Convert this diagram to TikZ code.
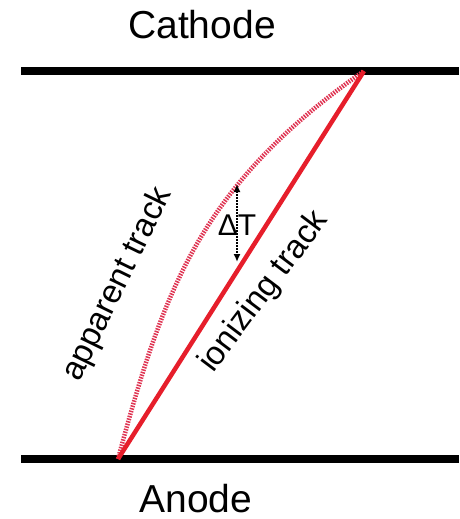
\documentclass[tikz,border=0pt]{standalone}
\usepackage{fontspec}
\setmainfont{Liberation Sans}
\usetikzlibrary{arrows.meta}
\definecolor{trackred}{HTML}{E61E2B}
\definecolor{ghostred}{HTML}{DF3452}

\begin{document}
\begin{tikzpicture}[
  x=1pt,y=-1pt,
  electrode/.style={line width=8.5pt,draw=black},
  label/.style={font=\fontsize{39}{41}\selectfont,anchor=base,inner sep=0pt},
  tracklabel/.style={font=\fontsize{33}{35}\selectfont,anchor=base,inner sep=0pt},
  ionizing/.style={line width=4.5pt,draw=trackred},
  apparent/.style={line width=4.5pt,draw=ghostred,dash pattern=on 1.5pt off 1.2pt},
  drift/.style={{Latex[length=8pt,width=7pt]}-{Latex[length=8pt,width=7pt]},line width=1.6pt,dash pattern=on 1.6pt off 1.4pt}
]
\useasboundingbox (0,0) rectangle (459,519);
% electrodes
\coordinate (cathL) at (21,71);
\coordinate (cathR) at (459,71);
\coordinate (anoL) at (21,459);
\coordinate (anoR) at (459,459);
\draw[electrode] (cathL) -- (cathR);
\draw[electrode] (anoL) -- (anoR);
\node[label] (cathode) at (202,38) {Cathode};
\node[label] (anode) at (196,512) {Anode};
% track end points
\coordinate (start) at (118,459);
\coordinate (end) at (364,71);
\draw[apparent] (start) .. controls (163,292) and (199,186) .. (end);
\draw[ionizing] (start) -- (end);
\node[tracklabel,rotate=64] (apptrack) at (126,288) {apparent track};
\node[tracklabel,rotate=53] (iontrack) at (271,297) {ionizing track};
% drift time
\node[font=\fontsize{30}{32}\selectfont,anchor=base,inner sep=0pt] (dt) at (237,235) {ΔT};
\coordinate (dtTop) at (237,184);
\coordinate (dtBot) at (237,262);
\draw[drift] (dtTop) -- (dtBot);
\end{tikzpicture}
\end{document}
